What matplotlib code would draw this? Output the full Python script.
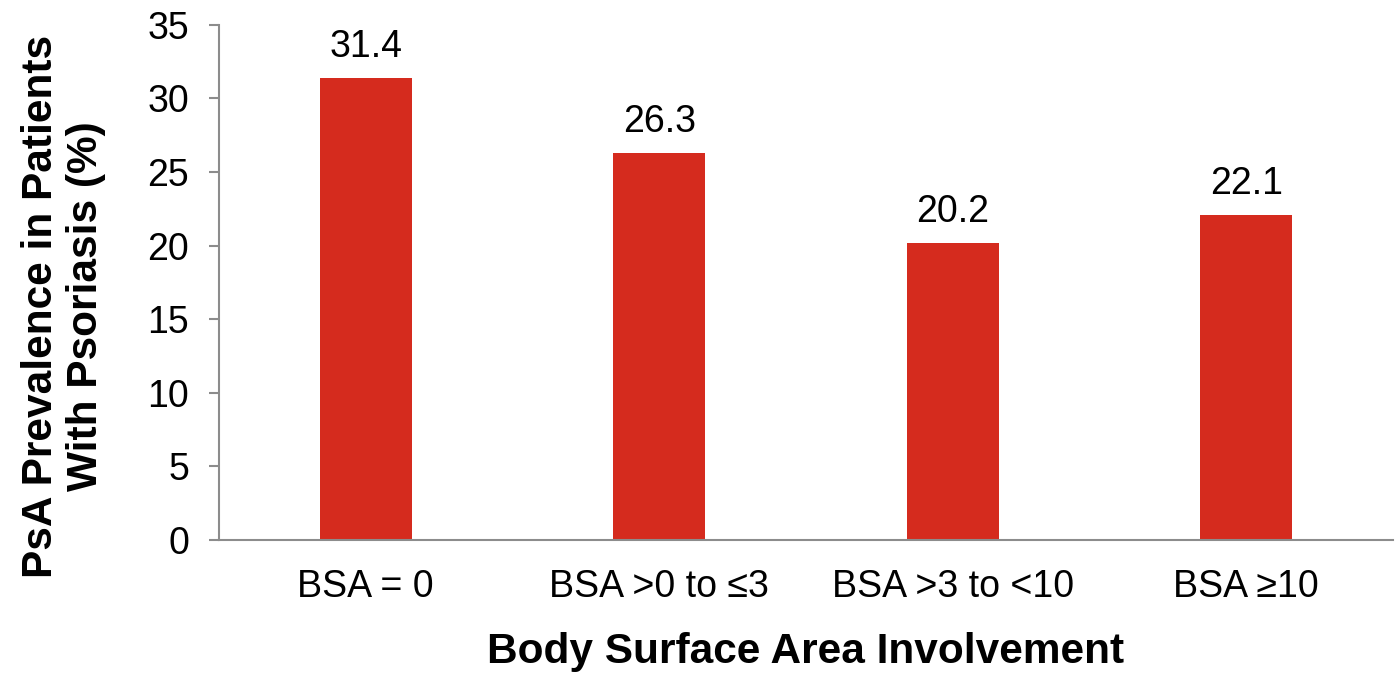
import matplotlib
matplotlib.use("Agg")
import matplotlib.pyplot as plt

# data
categories = ["BSA = 0", "BSA >0 to \u22643", "BSA >3 to <10", "BSA \u226510"]
prevalence = [31.4, 26.3, 20.2, 22.1]
yticks = [0, 5, 10, 15, 20, 25, 30, 35]

plt.rcParams['font.family'] = ['Liberation Sans', 'DejaVu Sans']

fig = plt.figure(figsize=(13.99, 6.76), dpi=100)
ax = fig.add_axes([0.1565, 0.2012, 0.8392, 0.762])

x = range(len(categories))
bars = ax.bar(x, prevalence, width=0.313, color='#D52B1E')
for b, v in zip(bars, prevalence):
    ax.text(b.get_x() + b.get_width() / 2, v + 0.85, "%.1f" % v,
            ha='center', va='bottom', fontsize=27)

ax.set_xlim(-0.5, len(categories) - 0.5)
ax.set_ylim(0, 35)
ax.set_yticks(yticks)
ax.set_xticks(list(x))
ax.set_xticklabels(categories)
ax.tick_params(axis='y', labelsize=27, length=7.5, width=1.5, color='#8c8c8c', pad=14)
ax.tick_params(axis='x', labelsize=27, length=0, pad=21)

for s in ['top', 'right']:
    ax.spines[s].set_visible(False)
for s in ['left', 'bottom']:
    ax.spines[s].set_color('#8c8c8c')
    ax.spines[s].set_linewidth(1.5)

ax.set_xlabel("Body Surface Area Involvement", fontsize=30.5, fontweight='bold')
ax.xaxis.set_label_coords(0.5, -0.179)
ax.set_ylabel("PsA Prevalence in Patients\nWith Psoriasis (%)", fontsize=30.5,
              fontweight='bold', linespacing=1.17)
ax.yaxis.set_label_coords(-0.096, 0.454)

fig.savefig("out.png", dpi=100)
